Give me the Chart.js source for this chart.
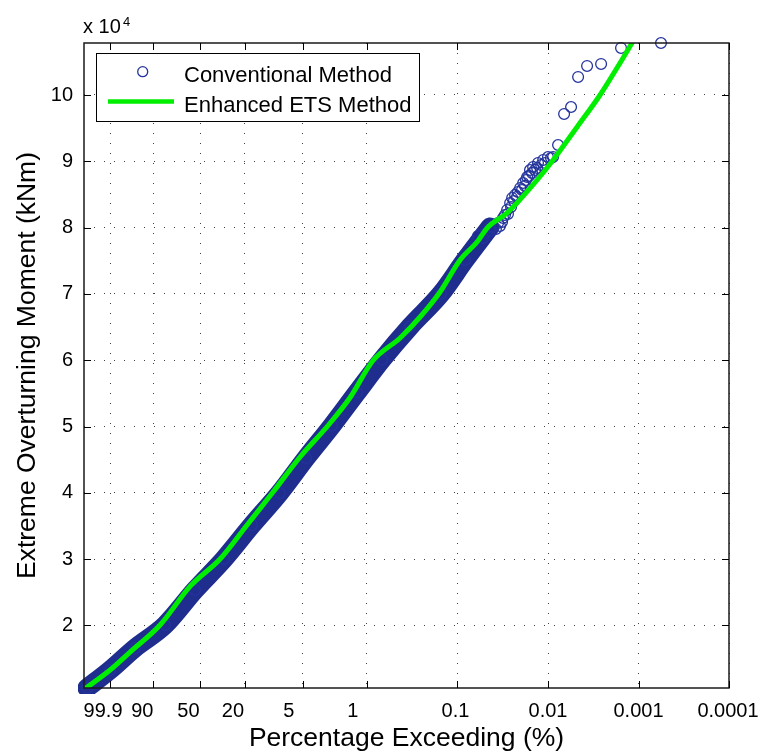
<!DOCTYPE html>
<html>
<head>
<meta charset="utf-8">
<script src="https://cdn.jsdelivr.net/npm/chart.js@4.4.1/dist/chart.umd.min.js"></script>
<style>
html,body{margin:0;padding:0;background:#ffffff;}
#wrap{width:763px;height:756px;position:relative;}
</style>
</head>
<body>
<div id="wrap"><canvas id="c" width="763" height="756"></canvas></div>
<script>
// ---------- data (percent exceeding, moment in kNm) ----------
const xTickPct    = [99.9, 90, 50, 20, 5, 1, 0.1, 0.01, 0.001, 0.0001];
const xTickLabels = ['99.9', '90', '50', '20', '5', '1', '0.1', '0.01', '0.001', '0.0001'];
const yTickValues = [20000, 30000, 40000, 50000, 60000, 70000, 80000, 90000, 100000];
const yTickLabels = ['2', '3', '4', '5', '6', '7', '8', '9', '10'];
const xAxisPctLimits = [99.99985, 0.0001];
const yAxisLimits = [10575, 107840];

// Conventional method: dense part (heavily overlapping circles)
const convDensePct = [99.9996, 99.9, 97.42, 81.82, 54.83, 31.61, 17.02, 8.84, 4.607, 2.404, 1.286, 0.680, 0.3338, 0.1517, 0.0824, 0.0437];
const convDenseKNm = [10575, 13290, 16610, 20075, 25360, 30030, 35160, 39980, 45260, 50160, 55130, 60100, 65070, 70050, 75120, 80090];
// Conventional method: sparse upper tail
const convTailPct = [0.0594, 0.0523, 0.0484, 0.0438, 0.0405, 0.0376, 0.0356, 0.0339, 0.0322, 0.0314, 0.0299, 0.0283, 0.0277, 0.0262, 0.0256, 0.0249, 0.0238, 0.0231, 0.0220, 0.0215, 0.0203, 0.0194, 0.0188, 0.0180, 0.0175, 0.0170, 0.0162, 0.0158, 0.0150, 0.0146, 0.0139, 0.0132, 0.0129, 0.0119, 0.0113, 0.0108, 0.0100, 0.00927, 0.00879, 0.00774, 0.00664, 0.00556, 0.00465, 0.00370, 0.00259, 0.00156, 0.000564];
const convTailKNm = [78740, 78440, 79190, 79490, 80100, 79800, 80700, 80250, 80850, 81450, 81910, 82660, 82060, 83720, 83120, 84470, 84020, 84930, 84630, 85380, 85980, 85680, 86730, 86290, 87190, 87640, 87800, 88690, 88250, 89150, 88700, 89000, 89750, 89450, 90200, 89750, 90650, 90500, 90650, 92460, 97140, 98190, 102720, 104380, 104680, 107090, 107840];

// Enhanced ETS method
const etsPct = [99.9997, 99.9, 98.43, 85.57, 59.45, 34.33, 19.07, 10.34, 5.349, 2.658, 1.527, 0.854, 0.4303, 0.259, 0.1559, 0.0937, 0.0608, 0.0460, 0.0283, 0.0132, 0.00878, 0.00477, 0.00266, 0.00160, 0.00118];
const etsKNm = [10575, 13290, 16000, 20075, 25900, 30030, 35160, 40130, 45410, 50160, 54380, 59960, 63360, 66520, 70290, 75120, 77830, 80090, 82210, 87180, 90200, 95180, 100000, 104830, 107840];

// ---------- helpers ----------
// Gumbel reduced variate for a percentage exceeding
function gum(pct) { return -Math.log(-Math.log(1 - pct / 100)); }
function pts(pcts, vals) { return pcts.map((p, i) => ({ x: gum(p), y: vals[i] })); }

const FONT = "'Liberation Sans', Arial, Helvetica, sans-serif";
const NAVY = '#24349c';
const BAND = '#1e2d8e';
const GREEN = '#00ee00';

const xLabelShift = [-7, -11, -12, -12, -14, -14, -2, 0, 0, -1];

const decor = {
  id: 'decor',
  afterDraw(chart) {
    const ctx = chart.ctx;
    const a = chart.chartArea;
    const xs = chart.scales.x, ys = chart.scales.y;
    ctx.save();
    // frame
    ctx.strokeStyle = '#1a1a1a';
    ctx.lineWidth = 1.5;
    ctx.strokeRect(a.left, a.top, a.right - a.left, a.bottom - a.top);
    // inward ticks
    ctx.lineWidth = 1;
    ctx.strokeStyle = '#000';
    ctx.beginPath();
    xTickPct.forEach(p => {
      const px = Math.round(xs.getPixelForValue(gum(p))) + 0.5;
      ctx.moveTo(px, a.bottom); ctx.lineTo(px, a.bottom - 7);
      ctx.moveTo(px, a.top); ctx.lineTo(px, a.top + 7);
    });
    yTickValues.forEach(v => {
      const py = Math.round(ys.getPixelForValue(v)) + 0.5;
      ctx.moveTo(a.left, py); ctx.lineTo(a.left + 7, py);
      ctx.moveTo(a.right, py); ctx.lineTo(a.right - 7, py);
    });
    ctx.stroke();
    // x tick labels
    ctx.fillStyle = '#000';
    ctx.font = '20px ' + FONT;
    ctx.textAlign = 'center';
    ctx.textBaseline = 'alphabetic';
    xTickPct.forEach((p, i) => {
      const px = xs.getPixelForValue(gum(p)) + xLabelShift[i];
      ctx.fillText(xTickLabels[i], px, a.bottom + 29);
    });
    // exponent label
    ctx.textAlign = 'left';
    ctx.font = '20px ' + FONT;
    ctx.fillText('x 10', 83, 33);
    ctx.font = '13px ' + FONT;
    ctx.fillText('4', 123, 26);
    // legend
    const lx = 96, ly = 53, lw = 323, lh = 68;
    ctx.fillStyle = '#fff';
    ctx.fillRect(lx, ly, lw, lh);
    ctx.strokeStyle = '#000';
    ctx.lineWidth = 1;
    ctx.strokeRect(lx + 0.5, ly + 0.5, lw, lh);
    ctx.strokeStyle = NAVY;
    ctx.lineWidth = 1.3;
    ctx.beginPath();
    ctx.arc(142.7, 71.7, 5, 0, Math.PI * 2);
    ctx.stroke();
    ctx.strokeStyle = GREEN;
    ctx.lineWidth = 4.5;
    ctx.beginPath();
    ctx.moveTo(108, 101.5); ctx.lineTo(174, 101.5);
    ctx.stroke();
    ctx.fillStyle = '#000';
    ctx.font = '22px ' + FONT;
    ctx.fillText(chart.data.datasets[1].label, 184, 81.5);
    ctx.fillText(chart.data.datasets[0].label, 184, 111.5);
    ctx.restore();
  }
};

new Chart(document.getElementById('c'), {
  type: 'scatter',
  data: {
    datasets: [
      {
        label: 'Enhanced ETS Method',
        data: pts(etsPct, etsKNm),
        showLine: true,
        borderColor: GREEN,
        backgroundColor: GREEN,
        borderWidth: 5,
        pointRadius: 0,
        cubicInterpolationMode: 'monotone',
        borderCapStyle: 'round',
        borderJoinStyle: 'round',
        order: 0
      },
      {
        label: 'Conventional Method',
        data: pts(convDensePct.concat(convTailPct), convDenseKNm.concat(convTailKNm)),
        showLine: false,
        pointStyle: 'circle',
        pointRadius: 5.4,
        pointBorderWidth: 1.3,
        pointBorderColor: NAVY,
        pointBackgroundColor: 'rgba(0,0,0,0)',
        clip: false,
        order: 1
      },
      {
        label: 'Conventional Method (dense)',
        data: pts(convDensePct, convDenseKNm),
        showLine: true,
        borderColor: BAND,
        borderWidth: 19,
        pointRadius: 0,
        cubicInterpolationMode: 'monotone',
        borderCapStyle: 'round',
        borderJoinStyle: 'round',
        clip: 6,
        order: 2
      }
    ]
  },
  options: {
    responsive: false,
    animation: false,
    devicePixelRatio: 1,
    layout: { padding: { top: 43, right: 34, bottom: 0, left: 0 } },
    plugins: { legend: { display: false }, tooltip: { enabled: false } },
    scales: {
      x: {
        type: 'linear',
        min: gum(xAxisPctLimits[0]),
        max: gum(xAxisPctLimits[1]),
        afterBuildTicks: s => { s.ticks = xTickPct.map(p => ({ value: gum(p) })); },
        ticks: { display: false },
        grid: { color: 'rgba(0,0,0,0.75)', lineWidth: 1, drawTicks: false, borderDash: [1, 9] },
        border: { display: false, dash: [1, 9] },
        title: { display: true, text: 'Percentage Exceeding (%)', color: '#000', font: { family: FONT, size: 26.5 }, padding: { top: 0, bottom: 1 } },
        afterFit: s => { s.height = 68; }
      },
      y: {
        type: 'linear',
        min: yAxisLimits[0],
        max: yAxisLimits[1],
        afterBuildTicks: s => { s.ticks = yTickValues.map(v => ({ value: v })); },
        ticks: {
          callback: v => { const i = yTickValues.indexOf(v); return i >= 0 ? yTickLabels[i] : ''; },
          color: '#000', font: { family: FONT, size: 20 }, padding: 11
        },
        grid: { color: 'rgba(0,0,0,0.75)', lineWidth: 1, drawTicks: false, borderDash: [1, 9] },
        border: { display: false, dash: [1, 9] },
        title: { display: true, text: 'Extreme Overturning Moment (kNm)', color: '#000', font: { family: FONT, size: 26.5 }, padding: { top: 12, bottom: 0 } },
        afterFit: s => { s.width = 84; }
      }
    }
  },
  plugins: [decor]
});
</script>
</body>
</html>
